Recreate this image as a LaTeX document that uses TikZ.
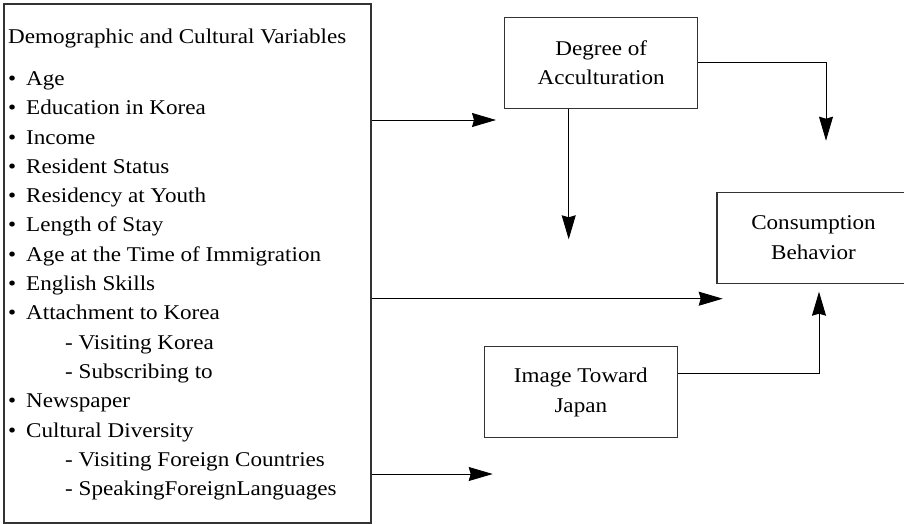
\documentclass[tikz,border=0pt]{standalone}
\usepackage{fontspec}
\setmainfont{Liberation Serif}[FakeStretch=1.1]
\usetikzlibrary{arrows.meta}

\newcommand{\itm}[1]{\makebox[18pt][l]{\textbullet}#1}
\newcommand{\subitm}[1]{\hspace{57pt}- #1}

\tikzset{
  box/.style={draw=black!80, line width=1.1pt, minimum width=193pt, minimum height=91pt,
    inner sep=0pt, align=center, font=\fontsize{21}{29.3}\selectfont},
  arr/.style={line width=0.9pt, -{Stealth[length=24pt, width=14pt, inset=2pt]}}
}

\begin{document}
\begin{tikzpicture}[x=1pt, y=-1pt]
        \useasboundingbox (0,0) rectangle (904,524);

        % Boxes
        \node[draw=black!80, line width=1.1pt, minimum width=367pt, minimum height=519pt,
          inner sep=0pt] (vars) at (187.5,263.5) {};
        \node[anchor=north west, inner sep=0pt, align=left,
          font=\fontsize{21}{29.3}\selectfont] (list) at (8,28.4) {%
          Demographic and Cultural Variables\\[13pt]
          \itm{Age}\\
          \itm{Education in Korea}\\
          \itm{Income}\\
          \itm{Resident Status}\\
          \itm{Residency at Youth}\\
          \itm{Length of Stay}\\
          \itm{Age at the Time of Immigration}\\
          \itm{English Skills}\\
          \itm{Attachment to Korea}\\
          \subitm{Visiting Korea}\\
          \subitm{Subscribing to}\\
          \itm{Newspaper}\\
          \itm{Cultural Diversity}\\
          \subitm{Visiting Foreign Countries}\\
          \subitm{SpeakingForeignLanguages}};
        \node[box] (acc) at (601.2,62.8) {Degree of\\Acculturation};
        \node[box] (img) at (580.8,392.3) {Image Toward\\Japan};
        \node[box] (cons) at (813.5,237.6) {Consumption\\Behavior};

        % Free ends
        \coordinate (a1) at (496,120);
        \coordinate (a2) at (568.7,239.3);
        \coordinate (a3) at (826,140.7);
        \coordinate (a4) at (722.7,298.7);
        \coordinate (b5) at (819,373);
        \coordinate (a5) at (819,291.7);
        \coordinate (a6) at (492.7,474);

        % Arrows
        \draw[arr] (vars.east |- a1) -- (a1);
        \draw[arr] (acc.south -| a2) -- (a2);
        \draw[arr] (acc.east) -| (a3);
        \draw[arr] (vars.east |- a4) -- (a4);
        \draw[arr] (img.east |- b5) -- (b5) -- (a5);
        \draw[arr] (vars.east |- a6) -- (a6);

    \end{tikzpicture}
\end{document}
